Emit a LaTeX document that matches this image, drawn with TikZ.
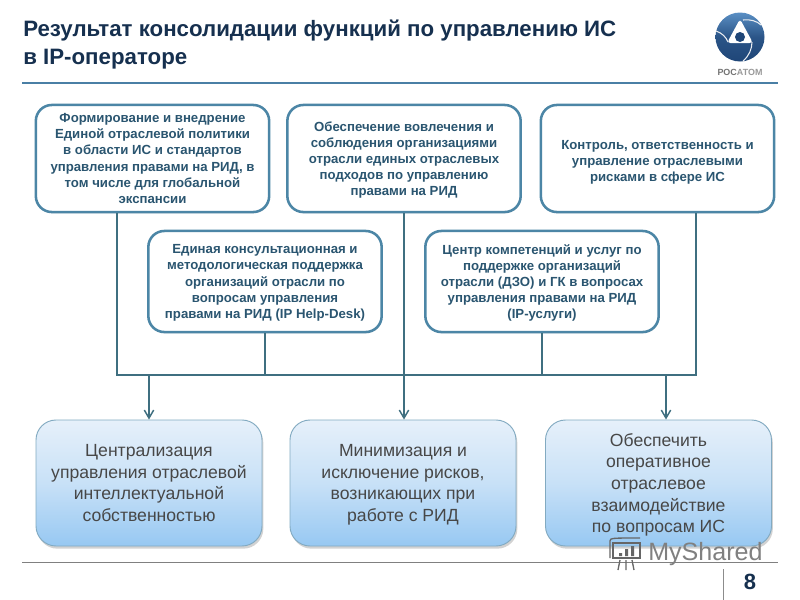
\documentclass[tikz,border=0pt]{standalone}
\usepackage{fontspec}
\setmainfont{Liberation Sans}
\usetikzlibrary{arrows.meta,shadows,calc}
\definecolor{edgeblue}{HTML}{4C86A6}
\definecolor{linkteal}{HTML}{3F6F80}
\definecolor{txtteal}{HTML}{2A5570}
\definecolor{titlenavy}{HTML}{16304F}
\definecolor{ruleblue}{HTML}{4A7FA5}
\definecolor{logodark}{HTML}{1F4678}
\definecolor{logolight}{HTML}{5A8FC4}
\definecolor{boxtop}{HTML}{E6F0FA}
\definecolor{boxmid}{HTML}{C8E1F7}
\definecolor{boxbot}{HTML}{97C8F2}
\tikzset{
  x=0.75pt,y=-0.75pt,
  topbox/.style={draw=edgeblue,line width=1.9pt,rounded corners=12pt,fill=white,align=center,
    font=\bfseries\fontsize{9.9}{12.1}\selectfont,text=txtteal,inner sep=0pt,
    drop shadow={shadow xshift=0.5pt,shadow yshift=-1pt,opacity=.18}},
  botbox/.style={draw=edgeblue!70,line width=.7pt,rounded corners=15pt,top color=boxtop,bottom color=boxbot,
    middle color=boxmid,align=center,font=\fontsize{13.2}{16.2}\selectfont,text=black!72,inner sep=0pt,text depth=-1pt,
    minimum width=169.5pt,minimum height=94.5pt,drop shadow={shadow xshift=1pt,shadow yshift=-2pt,opacity=.35}},
  link/.style={draw=linkteal,line width=1.1pt},
  arrowlink/.style={link,-{Straight Barb[length=6pt,width=7pt,line width=1.1pt]}},
}
\begin{document}
\begin{tikzpicture}
\useasboundingbox (0,0) rectangle (800,600);
\fill[white] (0,0) rectangle (800,600);
% header
\node[anchor=west,font=\bfseries\fontsize{16.7}{21}\selectfont,text=titlenavy,align=left,inner sep=0pt] (title) at (23,45)
 {Результат консолидации функций по управлению ИС\\в IP-операторе};
\coordinate (hl) at (22,83); \coordinate (hr) at (778,83);
\draw[ruleblue,line width=1.6pt] (hl) -- (hr);
% logo
\shade[top color=logolight,bottom color=logodark,middle color=logodark!80!logolight] (740,37) circle (24.5);
\fill[white,rounded corners=2.5pt] (740,19) -- (753,43) -- (727,43) -- cycle;
\fill[logodark] (740,37) circle (5);
\draw[white!90!logodark,line width=.8pt] (716,31) .. controls (722,33) and (726,37) .. (728,42);
\draw[white!90!logodark,line width=.8pt] (743,20) .. controls (750,19) and (757,21) .. (761,25);
\draw[white!90!logodark,line width=.8pt] (752,42) .. controls (752,49) and (749,56) .. (743,61);
\node[font=\bfseries\fontsize{6.7}{7}\selectfont,text=black!55,inner sep=0pt] (logotext) at (740,72) {РОС\textcolor{black!40}{АТОМ}};
% top boxes
\node[topbox,minimum width=175pt,minimum height=80.3pt] (t1) at (152.5,158.5)
 {Формирование и внедрение\\Единой отраслевой политики\\в области ИС и стандартов\\управления правами на РИД, в\\том числе для глобальной\\экспансии};
\node[topbox,text depth=0pt,minimum width=175pt,minimum height=80.3pt] (t2) at (404,158.5)
 {Обеспечение вовлечения и\\соблюдения организациями\\отрасли единых отраслевых\\подходов по управлению\\правами на РИД};
\node[topbox,minimum width=175pt,minimum height=80.3pt] (t3) at (657.5,158.5)
 {\mbox{}\\Контроль, ответственность и\\управление отраслевыми\\рисками в сфере ИС};
\node[topbox,text depth=0pt,minimum width=175pt,minimum height=75.8pt] (m1) at (265,281.5)
 {Единая консультационная и\\методологическая поддержка\\организаций отрасли по\\вопросам управления\\правами на РИД (IP Help-Desk)};
\node[topbox,text depth=0pt,minimum width=175pt,minimum height=75.8pt] (m2) at (542,281.5)
 {Центр компетенций и услуг по\\поддержке организаций\\отрасли (ДЗО) и ГК в вопросах\\управления правами на РИД\\(IP-услуги)};
% bottom boxes
\node[botbox] (b1) at (149,483) {Централизация\\управления отраслевой\\интеллектуальной\\собственностью};
\node[botbox] (b2) at (403,483) {Минимизация и\\исключение рисков,\\возникающих при\\работе с РИД};
\node[botbox] (b3) at (658.5,483) {Обеспечить\\оперативное\\отраслевое\\взаимодействие\\по вопросам ИС};
% connectors
\coordinate (jl) at (117,375);
\coordinate (jr) at (696,375);
\draw[link] (t1.south -| jl) -- (jl) -- (jr) -- (t3.south -| jr);
\draw[link] (m1.south) -- (m1.south |- jl);
\draw[link] (m2.south) -- (m2.south |- jl);
\draw[arrowlink] (t2.south) -- (t2.south |- b2.north);
\coordinate (a1) at (b1.north |- jl);
\coordinate (a3) at (666,375);
\draw[arrowlink] (a1) -- (b1.north);
\draw[arrowlink] (a3) -- (a3 |- b3.north);
% footer
\coordinate (fl) at (22,562); \coordinate (fr) at (778,562);
\draw[black!50,line width=.7pt] (fl) -- (fr);
\coordinate (vt) at (723,569); \coordinate (vb) at (723,600);
\draw[black!45,line width=.7pt] (vt) -- (vb);
\node[font=\bfseries\fontsize{16.5}{18}\selectfont,text=titlenavy,inner sep=0pt] (pg) at (750,582) {8};
% watermark
\draw[black!60,line width=1pt] (613,543) -- (640,543) -- (640,558) -- (613,558) -- cycle;
\draw[black!60,line width=1pt] (610,558) -- (610,541) .. controls (610,538) and (612,538) .. (640,538);
\fill[black!60] (619,553) rectangle (622,556) (625,549) rectangle (628,556) (631,546) rectangle (634,556);
\draw[black!60,line width=1pt] (620,560) -- (618,570) (626,560) -- (626,570) (632,560) -- (634,570);
\node[anchor=west,font=\fontsize{18.8}{20}\selectfont,text=black!50,inner sep=0pt] (wm) at (648,554) {MyShared};
\end{tikzpicture}
\end{document}
